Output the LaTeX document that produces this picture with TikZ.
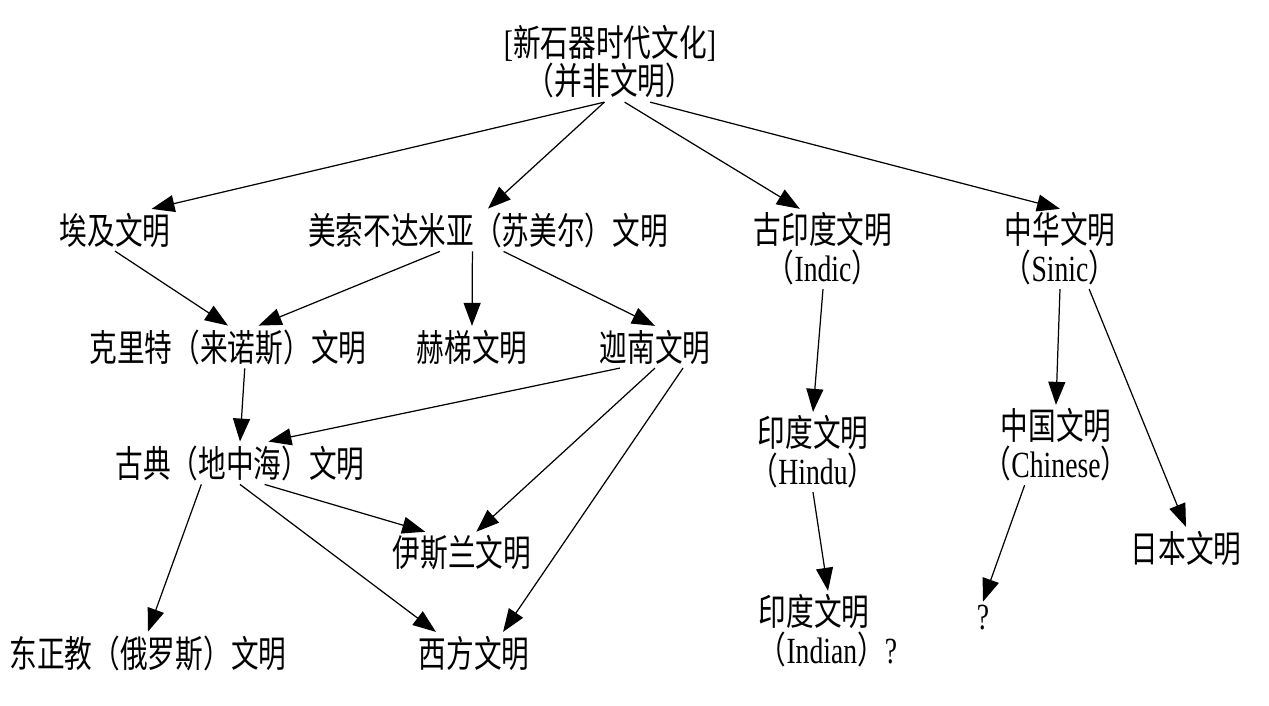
\documentclass[tikz,border=0pt]{standalone}
\usepackage{fontspec}
\setmainfont{Liberation Serif}[FakeStretch=0.75]
\newfontfamily\cjk{Noto Sans CJK SC}[FakeStretch=0.75]
\newcommand{\zh}[1]{{\cjk #1}}
\usetikzlibrary{arrows.meta,positioning}

\begin{document}
\begin{tikzpicture}[>={Triangle[length=0.46cm,width=0.34cm]}, x=0.02cm, y=-0.02cm]
        \tikzset{civ/.style={align=center, inner sep=2pt, font=\fontsize{21}{21.5}\selectfont}, edge/.style={->, line width=0.7pt}}
        \useasboundingbox (0,0) rectangle (1269,706);
        % nodes
        \node[civ] (neo) at (610,62) {[\zh{新石器时代文化}]\\\zh{（并非文明）}};
        \node[civ] (egypt) at (115,230) {\zh{埃及文明}};
        \node[civ] (meso) at (488,230) {\zh{美索不达米亚（苏美尔）文明}};
        \node[civ] (indic) at (823,249) {\zh{古印度文明}\\\zh{（}Indic\zh{）}};
        \node[civ] (sinic) at (1060,249) {\zh{中华文明}\\\zh{（}Sinic\zh{）}};
        \node[civ] (crete) at (228,347) {\zh{克里特（来诺斯）文明}};
        \node[civ] (hittite) at (472,347) {\zh{赫梯文明}};
        \node[civ] (canaan) at (655,347) {\zh{迦南文明}};
        \node[civ] (classic) at (240,463) {\zh{古典（地中海）文明}};
        \node[civ] (hindu) at (813,452) {\zh{印度文明}\\\zh{（}Hindu\zh{）}};
        \node[civ] (china) at (1056,445) {\zh{中国文明}\\\zh{（}Chinese\zh{）}};
        \node[civ] (islam) at (462,553) {\zh{伊斯兰文明}};
        \node[civ] (japan) at (1186,548) {\zh{日本文明}};
        \node[civ] (orthodox) at (148,653) {\zh{东正教（俄罗斯）文明}};
        \node[civ] (west) at (474,653) {\zh{西方文明}};
        \node[civ, align=left] (indian) at (828,631) {\zh{印度文明}\\\zh{（}Indian\zh{）}?};
        \node[civ] (unknown) at (983,618) {?};
        % edges
        \draw[edge] (neo.262) -- (egypt.30);
        \draw[edge] (neo.262) -- (meso.north);
        \draw[edge] (neo.290) -- (indic.120);
        \draw[edge] (neo.315) -- (sinic.north);
        \draw[edge] (egypt.south) -- (crete.north);
        \draw[edge] (meso.204) -- (crete.35);
        \draw[edge] (meso.234) -- (hittite.north);
        \draw[edge] (meso.306) -- (canaan.north);
        \draw[edge] (crete.308) -- (classic.north);
        \draw[edge] (canaan.211) -- (classic.37);
        \draw[edge] (canaan.south) -- (islam.56);
        \draw[edge] (canaan.323) -- (west.36);
        \draw[edge] (classic.209) -- (orthodox.north);
        \draw[edge] (classic.319) -- (islam.150);
        \draw[edge] (classic.south) -- (west.151);
        \draw[edge] (indic.south) -- (hindu.north);
        \draw[edge] (hindu.south) -- (indian.north);
        \draw[edge] (sinic.south) -- (china.north);
        \draw[edge] (sinic.306) -- (japan.north);
        \draw[edge] (china.232) -- (unknown.north);
\end{tikzpicture}
\end{document}
